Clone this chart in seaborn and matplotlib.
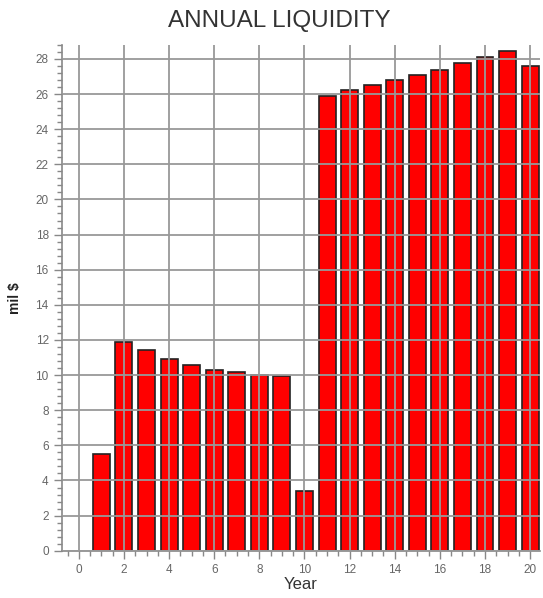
import numpy as np
import pandas as pd
import matplotlib
matplotlib.use('Agg')
import matplotlib.pyplot as plt
from matplotlib.ticker import MultipleLocator
import seaborn as sns

sns.set_style("white")
plt.rcParams['font.family'] = ['Liberation Sans', 'DejaVu Sans']

# yearly liquidity, mil $
years = list(range(1, 21))
liquidity = [5.5, 11.9, 11.45, 10.9, 10.6, 10.3, 10.15, 10.0, 9.95, 3.4,
             25.9, 26.25, 26.5, 26.8, 27.1, 27.35, 27.75, 28.1, 28.45, 27.6]

df = pd.DataFrame({'Year': years, 'Liquidity': liquidity})

fig = plt.figure(figsize=(5.43, 5.98), dpi=100)
ax = fig.add_axes([0.114, 0.079, 0.881, 0.846])

sns.barplot(data=df, x='Year', y='Liquidity', native_scale=True, width=0.75,
            color='#ff0000', saturation=1, edgecolor='#222222', linewidth=1.2, ax=ax)

ax.set_xlim(-0.75, 20.45)
ax.set_ylim(0, 28.8)
ax.xaxis.set_major_locator(MultipleLocator(2))
ax.xaxis.set_minor_locator(MultipleLocator(0.5))
ax.yaxis.set_major_locator(MultipleLocator(2))
ax.yaxis.set_minor_locator(MultipleLocator(0.4))

# grid drawn over the bars
ax.set_axisbelow(False)
ax.grid(True, which='major', color='#999999', linewidth=1.3)

for side in ['top', 'right']:
    ax.spines[side].set_visible(False)
for side in ['left', 'bottom']:
    ax.spines[side].set_color('#888888')
    ax.spines[side].set_linewidth(1.2)

ax.tick_params(which='major', direction='out', length=6, width=1, color='#888888',
               labelsize=8.5, labelcolor='#666666', left=True, bottom=True)
ax.tick_params(which='minor', direction='out', length=3.5, width=1, color='#888888',
               left=True, bottom=True)

ax.set_xlabel('Year', fontsize=12, color='#333333', labelpad=1)
ax.set_ylabel('mil $', fontsize=10, color='#222222', fontweight='bold', labelpad=10)
fig.suptitle('ANNUAL LIQUIDITY', fontsize=17.5, color='#333333', x=0.515, y=0.983)

fig.savefig('out.png', dpi=100)
